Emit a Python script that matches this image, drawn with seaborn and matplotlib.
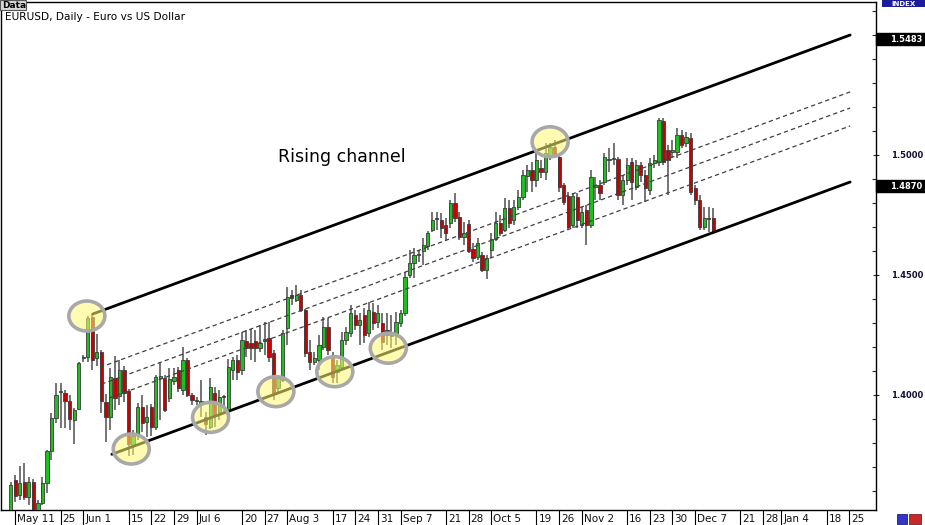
import numpy as np
import pandas as pd
import seaborn as sns
import matplotlib
matplotlib.use("Agg")
import matplotlib.pyplot as plt
import matplotlib.transforms as mtransforms
from matplotlib.patches import Ellipse, Rectangle

# ---------------- data ----------------
opens = [
    1.3521, 1.3646, 1.3583, 1.3638, 1.3575, 1.3638, 1.3521, 1.3550, 1.3633, 1.3767,
    1.3904, 1.4013, 1.4008, 1.3975, 1.3896, 1.3942, 1.4154, 1.4158, 1.4325, 1.4154,
    1.4179, 1.3971, 1.3908, 1.4071, 1.3996, 1.4104, 1.4017, 1.3788, 1.3842, 1.3950,
    1.3888, 1.3950, 1.3867, 1.4071, 1.4071, 1.3988, 1.4058, 1.4104, 1.4021, 1.4146,
    1.4000, 1.3975, 1.3963, 1.3908, 1.3867, 1.4008, 1.3929, 1.3992, 1.3938, 1.4104,
    1.4146, 1.4104, 1.4225, 1.4217, 1.4225, 1.4196, 1.4225, 1.4238, 1.4175, 1.4029,
    1.4063, 1.4279, 1.4417, 1.4396, 1.4417, 1.4354, 1.4179, 1.4138, 1.4146, 1.4200,
    1.4283, 1.4158, 1.4096, 1.4117, 1.4229, 1.4258, 1.4333, 1.4292, 1.4333, 1.4258,
    1.4346, 1.4304, 1.4300, 1.4271, 1.4258, 1.4250, 1.4300, 1.4342, 1.4500, 1.4550,
    1.4583, 1.4600, 1.4621, 1.4688, 1.4733, 1.4729, 1.4708, 1.4717, 1.4800, 1.4742,
    1.4658, 1.4713, 1.4608, 1.4575, 1.4583, 1.4521, 1.4604, 1.4650, 1.4717, 1.4688,
    1.4779, 1.4729, 1.4783, 1.4825, 1.4913, 1.4938, 1.4896, 1.4946, 1.4929, 1.4996,
    1.5033, 1.4992, 1.4875, 1.4829, 1.4708, 1.4825, 1.4708, 1.4771, 1.4708, 1.4867,
    1.4875, 1.4888, 1.4979, 1.4983, 1.4983, 1.4833, 1.4896, 1.4971, 1.4867, 1.4958,
    1.4917, 1.4854, 1.4967, 1.4971, 1.5142, 1.5021, 1.5013, 1.5013, 1.5083, 1.5050,
    1.5071, 1.4863, 1.4813, 1.4700, 1.4738, 1.4738,
]
closes = [
    1.3625, 1.3579, 1.3633, 1.3575, 1.3638, 1.3521, 1.3550, 1.3633, 1.3767, 1.3904,
    1.4000, 1.4017, 1.3975, 1.3900, 1.3938, 1.4133, 1.4158, 1.4321, 1.4146, 1.4179,
    1.3975, 1.3908, 1.4075, 1.3988, 1.4104, 1.4008, 1.3796, 1.3829, 1.3950, 1.3883,
    1.3908, 1.3867, 1.4075, 1.4079, 1.3938, 1.4067, 1.4075, 1.4029, 1.4146, 1.4000,
    1.3979, 1.3979, 1.3975, 1.3879, 1.4033, 1.3917, 1.3992, 1.3996, 1.4117, 1.4146,
    1.4096, 1.4229, 1.4196, 1.4196, 1.4196, 1.4217, 1.4233, 1.4158, 1.4008, 1.4071,
    1.4258, 1.4408, 1.4404, 1.4417, 1.4354, 1.4175, 1.4138, 1.4154, 1.4208, 1.4283,
    1.4188, 1.4075, 1.4125, 1.4229, 1.4263, 1.4342, 1.4292, 1.4313, 1.4250, 1.4354,
    1.4300, 1.4342, 1.4221, 1.4250, 1.4246, 1.4304, 1.4342, 1.4492, 1.4550, 1.4583,
    1.4588, 1.4625, 1.4675, 1.4729, 1.4738, 1.4696, 1.4675, 1.4800, 1.4738, 1.4658,
    1.4675, 1.4600, 1.4571, 1.4633, 1.4521, 1.4571, 1.4650, 1.4717, 1.4675, 1.4779,
    1.4717, 1.4783, 1.4825, 1.4917, 1.4938, 1.4896, 1.4979, 1.4929, 1.5008, 1.5033,
    1.5000, 1.4867, 1.4804, 1.4700, 1.4829, 1.4729, 1.4763, 1.4708, 1.4908, 1.4875,
    1.4842, 1.4992, 1.4983, 1.4988, 1.4833, 1.4896, 1.4958, 1.4888, 1.4958, 1.4917,
    1.4863, 1.4967, 1.4979, 1.5146, 1.4971, 1.4979, 1.5021, 1.5083, 1.5042, 1.5075,
    1.4846, 1.4813, 1.4700, 1.4738, 1.4733, 1.4679,
]
highs = [
    1.3638, 1.3667, 1.3704, 1.3717, 1.3658, 1.3650, 1.3563, 1.3658, 1.3771, 1.3925,
    1.4050, 1.4050, 1.4021, 1.4000, 1.3946, 1.4138, 1.4167, 1.4329, 1.4338, 1.4254,
    1.4188, 1.4004, 1.4113, 1.4163, 1.4146, 1.4121, 1.4025, 1.3854, 1.3967, 1.4000,
    1.3958, 1.3963, 1.4083, 1.4138, 1.4083, 1.4113, 1.4113, 1.4117, 1.4200, 1.4154,
    1.4008, 1.3992, 1.4063, 1.3929, 1.4071, 1.4033, 1.4021, 1.4000, 1.4150, 1.4158,
    1.4167, 1.4263, 1.4271, 1.4275, 1.4271, 1.4292, 1.4304, 1.4304, 1.4188, 1.4079,
    1.4271, 1.4450, 1.4438, 1.4458, 1.4438, 1.4358, 1.4229, 1.4179, 1.4250, 1.4325,
    1.4321, 1.4179, 1.4146, 1.4263, 1.4283, 1.4375, 1.4354, 1.4342, 1.4363, 1.4388,
    1.4383, 1.4375, 1.4342, 1.4342, 1.4333, 1.4346, 1.4354, 1.4513, 1.4604, 1.4613,
    1.4604, 1.4654, 1.4683, 1.4763, 1.4763, 1.4758, 1.4738, 1.4813, 1.4842, 1.4763,
    1.4721, 1.4729, 1.4633, 1.4654, 1.4596, 1.4583, 1.4675, 1.4763, 1.4750, 1.4821,
    1.4813, 1.4813, 1.4854, 1.4938, 1.4958, 1.4971, 1.5008, 1.4979, 1.5050, 1.5050,
    1.5063, 1.5000, 1.4883, 1.4846, 1.4842, 1.4842, 1.4783, 1.4792, 1.4938, 1.4908,
    1.4896, 1.5008, 1.5029, 1.5050, 1.4992, 1.4917, 1.4988, 1.4988, 1.4979, 1.4971,
    1.4938, 1.4988, 1.5000, 1.5154, 1.5154, 1.5042, 1.5063, 1.5113, 1.5104, 1.5096,
    1.5092, 1.4875, 1.4833, 1.4783, 1.4783, 1.4779,
]
lows = [
    1.3513, 1.3554, 1.3563, 1.3563, 1.3542, 1.3513, 1.3513, 1.3542, 1.3592, 1.3729,
    1.3883, 1.3863, 1.3863, 1.3854, 1.3796, 1.3938, 1.4138, 1.4138, 1.4104, 1.4121,
    1.3925, 1.3804, 1.3854, 1.3938, 1.3958, 1.3971, 1.3746, 1.3750, 1.3813, 1.3846,
    1.3825, 1.3829, 1.3854, 1.3896, 1.3929, 1.3971, 1.4042, 1.4013, 1.4000, 1.3992,
    1.3958, 1.3958, 1.3908, 1.3833, 1.3858, 1.3867, 1.3896, 1.3929, 1.3929, 1.4063,
    1.4063, 1.4083, 1.4158, 1.4146, 1.4138, 1.4179, 1.4167, 1.4138, 1.3979, 1.4008,
    1.4054, 1.4208, 1.4375, 1.4388, 1.4346, 1.4158, 1.4104, 1.4125, 1.4104, 1.4188,
    1.4167, 1.4050, 1.4050, 1.4104, 1.4208, 1.4242, 1.4271, 1.4208, 1.4217, 1.4242,
    1.4271, 1.4279, 1.4188, 1.4208, 1.4196, 1.4208, 1.4283, 1.4329, 1.4488, 1.4488,
    1.4554, 1.4542, 1.4604, 1.4679, 1.4688, 1.4654, 1.4646, 1.4696, 1.4721, 1.4646,
    1.4625, 1.4592, 1.4554, 1.4563, 1.4513, 1.4483, 1.4571, 1.4642, 1.4663, 1.4679,
    1.4696, 1.4708, 1.4771, 1.4813, 1.4846, 1.4846, 1.4867, 1.4904, 1.4896, 1.4979,
    1.4988, 1.4846, 1.4792, 1.4688, 1.4696, 1.4696, 1.4696, 1.4625, 1.4696, 1.4813,
    1.4813, 1.4875, 1.4929, 1.4958, 1.4813, 1.4792, 1.4875, 1.4813, 1.4854, 1.4888,
    1.4804, 1.4833, 1.4946, 1.4954, 1.4958, 1.4833, 1.4988, 1.4988, 1.5029, 1.5033,
    1.4833, 1.4792, 1.4688, 1.4688, 1.4679, 1.4671,
]

# x-axis labels (bar index of the labelled day)
tick_index = [1, 11, 16, 26, 31, 36, 41, 51, 56, 61, 71, 76, 81, 86, 96, 101, 106,
              116, 121, 126, 136, 141, 146, 151, 161, 166, 170, 180, 185]
tick_labels = ["May 11", "25", "Jun 1", "15", "22", "29", "Jul 6", "20", "27", "Aug 3",
               "17", "24", "31", "Sep 7", "21", "28", "Oct 5", "19", "26", "Nov 2",
               "16", "23", "30", "Dec 7", "21", "28", "Jan 4", "18", "25"]

# price axis
price_ticks = [1.4000, 1.4500, 1.5000]
marker_prices = [1.5483, 1.4870]

# channel lines (bar index, price)
upper_x, upper_y = [18.1, 185.2], [1.43375, 1.5500]
lower_x, lower_y = [22.3, 185.2], [1.37529, 1.48875]
fib_lines = [([19.7, 185.2], [1.4115, 1.5263]),
             ([20.0, 185.2], [1.4045, 1.5196]),
             ([21.8, 185.2], [1.3988, 1.5121])]

# touch circles
circle_x = [16.8, 26.6, 44.1, 58.5, 71.5, 83.3, 119.0]
circle_y = [1.4329, 1.3775, 1.3907, 1.4014, 1.4097, 1.4195, 1.5055]

# ---------------- figure ----------------
sns.set_theme(style="white")
plt.rcParams["font.family"] = ["DejaVu Sans"]

W, H = 925, 525
fig = plt.figure(figsize=(W / 100, H / 100), dpi=100)
fig.patch.set_facecolor("white")
ax = fig.add_axes([1 / W, 15 / H, 875 / W, 508 / H])
ax.set_facecolor("white")

df = pd.DataFrame({"open": opens, "high": highs, "low": lows, "close": closes})
df["idx"] = np.arange(len(df))
df["bull"] = df["close"] >= df["open"]

wick_col = "#5c5c5c"
ax.vlines(df["idx"], df["low"], df["high"], color=wick_col, lw=1.2, zorder=2)
body_cols = np.where(df["bull"], "#1fbf1f", "#c80000")
ax.bar(df["idx"], df["close"] - df["open"], bottom=df["open"], width=0.72,
       color=body_cols, edgecolor="#3a3a3a", linewidth=0.6, zorder=3)

# channel
sns.lineplot(x=upper_x, y=upper_y, ax=ax, color="black", lw=2.0, zorder=4)
sns.lineplot(x=lower_x, y=lower_y, ax=ax, color="black", lw=2.0, zorder=4)
for fx, fy in fib_lines:
    sns.lineplot(x=fx, y=fy, ax=ax, color="#404040", lw=0.9, zorder=4,
                 linestyle=(0, (3.5, 2.5)))

# circles
px_x = 4.533
for cx, cy in zip(circle_x, circle_y):
    e = Ellipse((cx, cy), width=36 / px_x, height=30 / 2400,
                facecolor=(1.0, 0.98, 0.45, 0.55), edgecolor="#a8a8a8",
                linewidth=2.6, zorder=5)
    ax.add_patch(e)

ax.text(73.1, 1.4992, "Rising channel", fontsize=12.5, ha="center", va="center",
        color="black", zorder=6)

# axes limits / spines
ax.set_xlim(-2.14, 190.9)
ax.set_ylim(1.35208, 1.56375)
for s in ax.spines.values():
    s.set_color("black")
    s.set_linewidth(1.0)

# x ticks (labels drawn next to the tick line)
ax.set_xticks(tick_index)
ax.set_xticklabels([])
ax.tick_params(axis="x", which="major", direction="out", length=11, width=0.8,
               color="black", bottom=True)
for ti, tl in zip(tick_index, tick_labels):
    ax.text(ti + 0.45, -0.008, tl, transform=ax.get_xaxis_transform(),
            ha="left", va="top", fontsize=7.5, color="#101010", clip_on=False)

# y axis on the right
ax.yaxis.tick_right()
ax.set_yticks(price_ticks)
ax.set_yticklabels([f"{p:.4f}" for p in price_ticks], fontsize=6,
                   fontweight="bold", color="#101030")
ax.set_yticks(np.arange(1.36, 1.565, 0.01), minor=True)
ax.tick_params(axis="y", which="major", direction="inout", length=5, width=0.8,
               pad=8.5, right=True, left=False)
ax.tick_params(axis="y", which="minor", direction="in", length=3, width=0.8,
               right=True, left=False)

# price markers on the right scale
bt = mtransforms.blended_transform_factory(ax.transAxes, ax.transData)
for mp in marker_prices:
    ax.add_patch(Rectangle((1.0, mp - 0.0024), 49 / 875, 0.0048, transform=bt,
                           facecolor="black", edgecolor="black", clip_on=False,
                           zorder=7))
    ax.text(1.0 + 46 / 875, mp, f"{mp:.4f}", transform=bt, ha="right",
            va="center", fontsize=6, fontweight="bold", color="white",
            clip_on=False, zorder=8)

# header texts
fig.patches.append(Rectangle((0, 1 - 10 / H), 26 / W, 10 / H,
                             transform=fig.transFigure, facecolor="#d8d8d8",
                             edgecolor="#555555", linewidth=0.8))
fig.text(2 / W, 1 - 5 / H, "Data", fontsize=6.5, fontweight="bold",
         ha="left", va="center", color="black")
fig.text(5 / W, 1 - 17 / H, "EURUSD, Daily - Euro vs US Dollar", fontsize=7.6,
         ha="left", va="center", color="black")

fig.patches.append(Rectangle((882 / W, 1 - 7 / H), 43 / W, 7 / H,
                             transform=fig.transFigure, facecolor="#1c1c9c",
                             edgecolor="none"))
fig.text(903 / W, 1 - 3.5 / H, "INDEX", fontsize=5, fontweight="bold",
         ha="center", va="center", color="white")

# little buttons bottom right
fig.patches.append(Rectangle((897 / W, 1 - 524 / H), 10 / W, 10 / H,
                             transform=fig.transFigure, facecolor="#3434c8",
                             edgecolor="#202080", linewidth=0.6))
fig.patches.append(Rectangle((909 / W, 1 - 524 / H), 12 / W, 10 / H,
                             transform=fig.transFigure, facecolor="#c82828",
                             edgecolor="#802020", linewidth=0.6))

fig.savefig("out.png", dpi=100, facecolor="white")
